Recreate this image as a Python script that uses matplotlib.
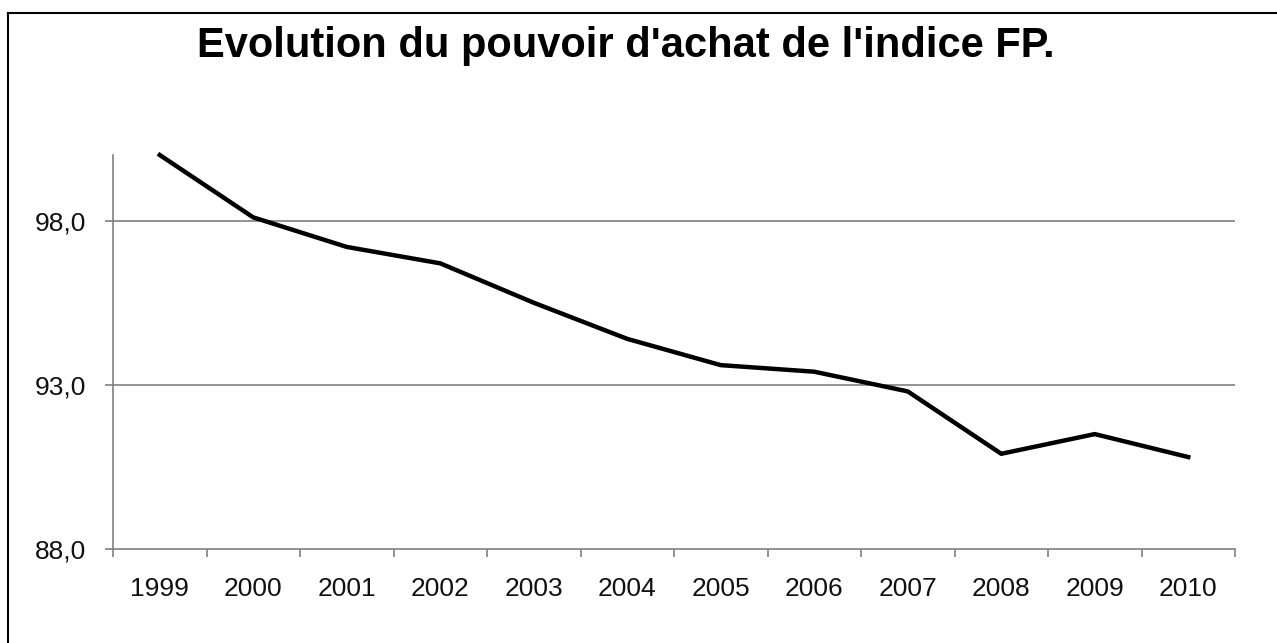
import matplotlib
matplotlib.use("Agg")
import matplotlib.pyplot as plt
from matplotlib.lines import Line2D
import numpy as np

# Data
years = ["1999", "2000", "2001", "2002", "2003", "2004",
         "2005", "2006", "2007", "2008", "2009", "2010"]
pouvoir_achat = [100.0, 98.1, 97.2, 96.7, 95.5, 94.4,
                 93.6, 93.4, 92.8, 90.9, 91.5, 90.8]
yticks = [88.0, 93.0, 98.0]

plt.rcParams['font.family'] = ['Liberation Sans', 'DejaVu Sans']

fig = plt.figure(figsize=(12.77, 6.43), dpi=100)
ax = fig.add_axes([113/1277, 1 - 549/643, (1235 - 113)/1277, (549 - 155)/643])

grey = "#808080"
x = np.arange(len(years))

# Horizontal gridlines (not at the bottom axis)
for yv in yticks[1:]:
    ax.axhline(yv, color=grey, linewidth=1.2, zorder=1)

ax.plot(x, pouvoir_achat, color="black", linewidth=3.2,
        solid_joinstyle="round", zorder=3, clip_on=False)

ax.set_xlim(-0.5, len(years) - 0.5)
ax.set_ylim(88, 100)

# Ticks at category boundaries, labels at centres
ax.set_xticks(np.arange(-0.5, len(years)), minor=False)
ax.set_xticklabels([])
ax.set_xticks(x, minor=True)
ax.set_xticklabels(years, minor=True, fontsize=19, color="#111111")
ax.tick_params(axis="x", which="major", direction="out", length=6,
               width=1.2, color=grey)
ax.tick_params(axis="x", which="minor", length=0, pad=20)

ax.set_yticks(yticks)
ax.set_yticklabels([f"{v:.1f}".replace(".", ",") for v in yticks],
                   fontsize=19, color="#111111")
ax.tick_params(axis="y", direction="out", length=6, width=1.2,
               color=grey, pad=13)

for side in ["top", "right"]:
    ax.spines[side].set_visible(False)
for side in ["left", "bottom"]:
    ax.spines[side].set_color(grey)
    ax.spines[side].set_linewidth(1.2)

fig.text(626/1277, 1 - 46/643, "Evolution du pouvoir d'achat de l'indice FP.",
         ha="center", va="center", fontsize=30, fontweight="bold")

# Frame lines on left and top of the picture
fig.add_artist(Line2D([8/1277, 8/1277], [0, 1 - 13/643],
                      transform=fig.transFigure, color="black", linewidth=1.5))
fig.add_artist(Line2D([8/1277, 1], [1 - 13/643, 1 - 13/643],
                      transform=fig.transFigure, color="black", linewidth=1.5))

fig.savefig("out.png", dpi=100)
